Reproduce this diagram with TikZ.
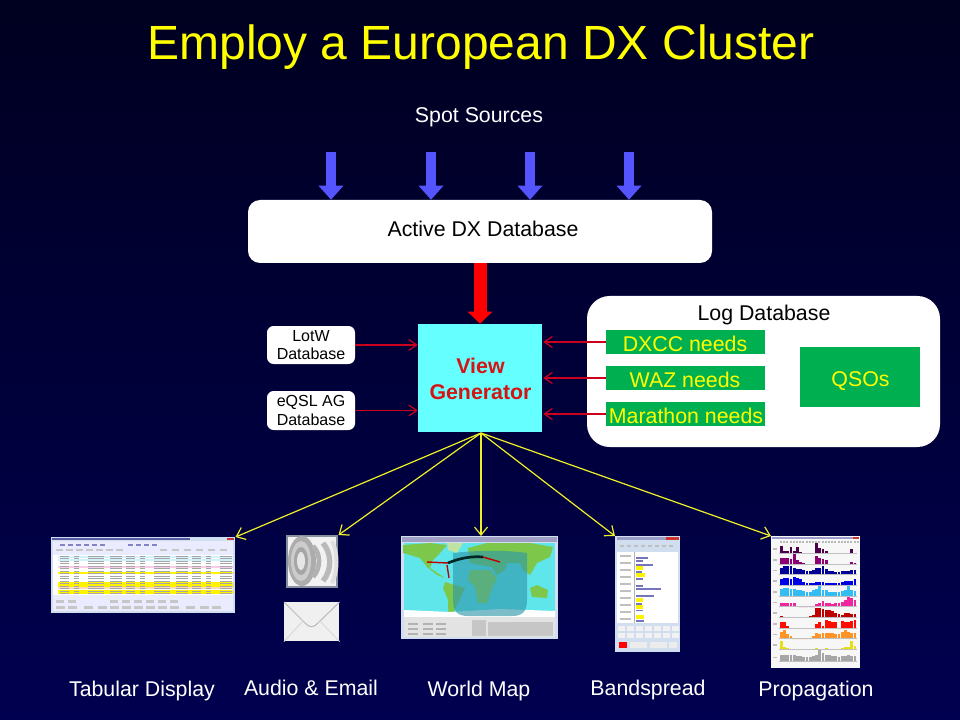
\documentclass[tikz,border=0pt]{standalone}
\usepackage{fontspec}
\setmainfont{Liberation Sans}
\usetikzlibrary{arrows.meta}

\definecolor{slidetop}{RGB}{0,0,32}
\definecolor{slidebot}{RGB}{0,0,80}
\definecolor{titleyellow}{RGB}{255,255,0}
\definecolor{boxgreen}{RGB}{0,176,80}
\definecolor{viewcyan}{RGB}{102,255,255}
\definecolor{viewred}{RGB}{214,20,20}
\definecolor{spotblue}{RGB}{85,85,255}
\definecolor{wirered}{RGB}{204,0,30}
\definecolor{wireyellow}{RGB}{240,240,40}
\definecolor{framegray}{RGB}{208,222,240}
\definecolor{mapcyan}{RGB}{95,230,235}
\definecolor{mapgreen}{RGB}{125,200,75}
\definecolor{mapteal}{RGB}{45,150,170}

\newcommand{\pxu}{*0.75pt}
\tikzset{
  whitebox/.style={fill=white, rounded corners=#1, inner sep=0pt, align=center, text=black},
  needbox/.style={fill=boxgreen, minimum width=159\pxu, minimum height=24\pxu, inner sep=0pt},
  needtext/.style={text=titleyellow, inner sep=0pt, font=\fontsize{16}{16}\selectfont},
  caption/.style={text=white, font=\fontsize{16}{16}\selectfont, inner sep=0pt},
  spotarrow/.style={draw=spotblue, line width=10\pxu, -{Triangle[length=14\pxu,width=24\pxu]}},
  feedarrow/.style={draw=red, line width=13\pxu, -{Triangle[length=12\pxu,width=24\pxu]}},
  redwire/.style={draw=wirered, line width=0.9pt, -{Straight Barb[length=8\pxu,width=11\pxu]}},
  yellowwire/.style={draw=wireyellow, line width=0.9pt, -{Straight Barb[length=8\pxu,width=13\pxu]}},
  shot/.style={fill=framegray, inner sep=0pt, anchor=north west},
}

\begin{document}
\begin{tikzpicture}[x=0.75pt, y=-0.75pt]
      \useasboundingbox (0,0) rectangle (960,720);
      \shade[top color=slidetop, bottom color=slidebot] (0,0) rectangle (960,720);

      % title and sources
      \node[text=titleyellow, font=\fontsize{36}{36}\selectfont, inner sep=0pt] (title) at (481,47) {Employ a European DX Cluster};
      \node[caption] (sources) at (479,117) {Spot Sources};

      % databases
      \node[whitebox=9pt, minimum width=464\pxu, minimum height=63\pxu] (active) at (480,231.5) {};
      \node[text=black, font=\fontsize{16}{16}\selectfont, inner sep=0pt] (activetitle) at (483,229) {Active DX Database};
      \node[fill=viewcyan, minimum width=124\pxu, minimum height=108\pxu, inner sep=0pt] (viewgen) at (480,378) {};
      \node[align=center, text=viewred, inner sep=0pt, font=\bfseries\fontsize{16}{19}\selectfont] (viewtitle) at (480.5,379) {View\\Generator};
      \foreach \x/\nm in {331/a,431/b,530/c,629/d} {
        \coordinate (spot\nm) at (\x,152);
        \draw[spotarrow] (spot\nm) -- (spot\nm |- active.north);
      }
      \draw[feedarrow] (active.south) -- (viewgen.north);

      \node[whitebox=5pt, minimum width=88\pxu, minimum height=38\pxu, font=\fontsize{12}{14}\selectfont] (lotw) at (311,345) {LotW\\Database};
      \node[whitebox=5pt, minimum width=88\pxu, minimum height=39\pxu, font=\fontsize{12}{14}\selectfont] (eqsl) at (311,410.5) {eQSL AG\\Database};

      \node[whitebox=17pt, minimum width=353\pxu, minimum height=151\pxu] (logdb) at (763.5,371.5) {};
      \node[text=black, font=\fontsize{16}{16}\selectfont, inner sep=0pt] (logtitle) at (764,315) {Log Database};
      \node[needbox] (dxcc) at (685.5,342) {};
      \node[needbox] (waz) at (685.5,378) {};
      \node[needbox] (marathon) at (685.5,414) {};
      \node[needtext] (dxcctext) at (685,343.5) {DXCC needs};
      \node[needtext] (waztext) at (685,379.5) {WAZ needs};
      \node[needtext] (maratext) at (686,415.5) {Marathon needs};
      \node[fill=boxgreen, minimum width=120\pxu, minimum height=60\pxu, inner sep=0pt] (qsos) at (860,377) {};
      \node[needtext] (qsostext) at (860.5,381) {QSOs};

      % inputs of the view generator
      \coordinate (inlotw) at (viewgen.west |- lotw);
      \coordinate (ineqsl) at (viewgen.west |- eqsl);
      \coordinate (indxcc) at ([xshift=1\pxu]viewgen.east |- dxcc);
      \coordinate (inwaz) at ([xshift=1\pxu]viewgen.east |- waz);
      \coordinate (inmara) at ([xshift=1\pxu]viewgen.east |- marathon);
      \draw[redwire] (lotw.east) -- (inlotw);
      \draw[redwire] (eqsl.east) -- (ineqsl);
      \draw[redwire] (dxcc.west) -- (indxcc);
      \draw[redwire] (waz.west) -- (inwaz);
      \draw[redwire] (marathon.west) -- (inmara);

      % tabular display
      \node[shot, minimum width=184\pxu, minimum height=76\pxu] (tabular) at (51,537) {};
      \fill[white!92!blue] (53,541) rectangle (233,611);
      \fill[white] (53,555) rectangle (233,595);
      \fill[blue!30!gray] (52,538) rectangle (190,540);
      \fill[red!55!gray] (227,538) rectangle (234,540);
      \foreach \y/\col in {557/cyan!18,560/cyan!18,567/magenta!20,573/yellow,583/yellow,585.5/yellow,588/orange!30,591/yellow,593/yellow}
        \fill[\col] (58,\y-1.4) rectangle (233,\y+1.4);
      \foreach \y in {556,558.5,...,595}
        \draw[gray!70, line width=0.4pt, dash pattern=on 9\pxu off 5\pxu on 5\pxu off 9\pxu on 16\pxu off 6\pxu on 12\pxu off 4\pxu] (60,\y) -- (232,\y);
      \foreach \x in {60,68,...,100,128,136,...,152}
        \fill[blue!40!gray!70] (\x,544) rectangle +(5,1.5);
      \foreach \x in {56,66,...,120,160,172,...,220}
        \fill[gray!45] (\x,549) rectangle +(7,2);
      \foreach \x in {56,68,110,122,134,146,158,170}
        \fill[gray!45] (\x,600) rectangle +(8,3);
      \foreach \x in {56,68,84,98,110,122,134,146,158,170,186,200,212}
        \fill[gray!45] (\x,606) rectangle +(9,2.5);

      % audio and email
      \node[shot, fill=black!35!framegray, minimum width=52\pxu, minimum height=53\pxu] (speaker) at (286,535) {};
      \fill[gray!10] (288,537) rectangle (336,586);
      \fill[gray!65] (302,561) ellipse (14 and 25);
      \fill[gray!40] (301,561) ellipse (10 and 20);
      \fill[gray!70] (301,561) ellipse (7 and 14);
      \fill[gray!20] (301,561) ellipse (4 and 9);
      \draw[gray!60, line width=3.5pt] (313,546) .. controls (321,554) and (321,568) .. (313,577);
      \draw[gray!55, line width=4pt] (323,543) .. controls (332,554) and (332,570) .. (323,581);
      \draw[gray!25, line width=3pt] (332,541) .. controls (338,552) and (338,572) .. (332,583);
      \node[shot, fill=gray!12, minimum width=55\pxu, minimum height=39\pxu] (envelope) at (284,602) {};
      \draw[gray!55, line width=0.75pt] (envelope.north west) -- (305,623) .. controls (310,628) and (313,628) .. (318,623) -- (envelope.north east);
      \draw[gray!30, line width=0.75pt] (envelope.south west) -- (303,621);
      \draw[gray!30, line width=0.75pt] (envelope.south east) -- (320,621);

      % world map
      \node[shot, minimum width=157\pxu, minimum height=103\pxu] (worldmap) at (401,536) {};
      \fill[blue!25!gray!60] (402,537) rectangle (557,542);
      \fill[mapcyan] (404,543) rectangle (555,617);
      \fill[mapgreen] (403,545) -- (430,543) -- (447,545) -- (440,553) -- (433,560) -- (430,568) -- (445,578) -- (437,575) -- (427,567) -- (420,558) -- (410,555) -- (403,553) -- cycle;
      \fill[mapgreen!50!white] (447,543) -- (463,543) -- (457,553) -- (448,550) -- cycle;
      \fill[mapgreen] (445,582) -- (465,588) -- (458,603) -- (452,615) -- (448,615) -- (448,600) -- (443,588) -- cycle;
      \fill[mapgreen] (468,548) -- (487,543) -- (530,543) -- (553,547) -- (550,557) -- (537,563) -- (530,575) -- (523,570) -- (520,563) -- (507,563) -- (505,570) -- (497,575) -- (492,567) -- (480,565) -- (470,563) -- cycle;
      \fill[mapgreen!70!yellow] (470,570) -- (490,570) -- (497,578) -- (492,588) -- (487,603) -- (478,603) -- (475,587) -- (468,580) -- cycle;
      \fill[mapgreen] (530,588) -- (537,585) -- (548,590) -- (547,598) -- (532,597) -- cycle;
      \fill[white] (404,617) -- (404,610) -- (450,612) -- (500,609) -- (555,611) -- (555,617) -- cycle;
      \fill[mapteal, opacity=0.62] (453,553) .. controls (480,550) and (505,550) .. (527,553) -- (527,600) .. controls (527,612) and (522,616) .. (512,616) -- (468,616) .. controls (458,616) and (453,612) .. (453,600) -- cycle;
      \draw[red!75!black, line width=1.1pt] (427,562) -- (448,563);
      \draw[black!70!teal, line width=2pt] (448,563) .. controls (460,558) and (472,556) .. (483,557);
      \draw[red!75!black, line width=1.1pt] (483,557) -- (500,562);
      \draw[red!75!black, line width=1pt] (447,565) -- (449,578);
      \fill[gray!22] (404,617) rectangle (555,637);
      \foreach \y in {623,628,633}
        \foreach \x in {408,423,436}
          \fill[gray!60] (\x,\y) rectangle +(10,1.5);
      \fill[gray!45] (472,620) rectangle (486,636);
      \fill[gray!45] (488,622) rectangle (553,636);

      % bandspread
      \node[shot, minimum width=65\pxu, minimum height=116\pxu] (bandspread) at (615,536) {};
      \fill[blue!30!gray!60] (617,537) rectangle (666,540);
      \fill[red!60!gray] (666,537) rectangle (679,540);
      \foreach \x in {620,627,...,674}
        \fill[gray!50] (\x,545) rectangle +(4,2);
      \fill[white] (617,552) rectangle (678,623);
      \fill[gray!60] (634,552) rectangle (635,623);
      \foreach \y/\w in {558/12,561/7,565/17,568/7,572/6,575/9,579/7,586/7,589/25,596/18,600/7,604/6,607/7,610.5/7,617/8,621/8}
        \fill[blue!35!gray!80] (636,\y-0.7) rectangle +(\w,1.4);
      \foreach \y/\w in {568/7,575/9,600/7,607/7,617/8}
        \fill[yellow] (636,\y-1.6) rectangle +(\w,3.2);
      \foreach \y in {556,563,570,577,584,591,598,605,612,619}
        \fill[gray!50] (620,\y-0.7) rectangle +(11,1.4);
      \foreach \y in {626,633}
        \foreach \x in {618,627,...,672}
          \fill[white!90!gray] (\x,\y) rectangle +(7,5);
      \fill[red] (619,642) rectangle (627,648);
      \foreach \x/\w in {630/17,650/17,669/8}
        \fill[white!85!gray] (\x,642) rectangle +(\w,6);

      % propagation
      \node[shot, fill=gray!6, minimum width=89\pxu, minimum height=132\pxu] (propagation) at (771,536) {};
      \fill[blue!30!gray!60] (772,537) rectangle (853,539);
      \fill[red!60!gray] (853,537) rectangle (859,539);
      \foreach \x in {780,783.2,...,857}
        \fill[gray!55] (\x,541) rectangle +(2,1.5);
      \foreach \y/\col/\vals in {
        553/violet!60!black/{6,2,2,5,2,5,1,0,0,0,0,8,4,3,2,0,0,0,0,0,0,0,3,0},
        564/violet!80!purple/{5,5,5,4,8,3,2,1,0,0,0,7,5,4,3,0,0,0,0,0,0,0,2,1},
        574.7/blue!60!black/{6,7,7,7,6,5,5,4,3,3,4,6,6,7,5,3,3,2,2,3,3,3,4,4},
        585.3/blue!90!black/{5,6,6,5,7,6,5,3,2,2,2,3,3,3,2,2,2,2,2,3,4,4,4,5},
        596/cyan!80!white/{6,7,7,6,6,5,5,4,3,3,5,6,8,5,5,3,3,3,3,4,5,8,5,4},
        606.7/magenta!85!white/{3,3,3,3,3,1,0,0,0,0,0,2,3,5,3,3,2,3,3,4,6,8,7,6},
        617.3/red!75!black/{1,0,0,0,0,0,0,0,0,1,2,8,8,7,6,6,5,4,3,2,4,4,3,3},
        628/red!90!orange/{5,5,2,0,0,0,0,0,0,0,0,3,5,2,7,6,5,5,0,6,5,5,6,7},
        638.7/orange!85!white/{6,7,4,2,0,0,0,0,0,0,2,5,4,5,5,5,5,4,4,6,7,6,5,5},
        649.3/yellow!90!black/{7,2,1,0,0,0,0,0,0,0,0,1,0,0,1,0,0,0,0,1,2,2,7,3},
        661.7/gray!70/{6,6,6,6,6,5,5,4,4,4,5,6,10,7,6,6,5,5,4,5,5,6,5,5}}
      {
        \foreach \h [count=\i] in \vals
          \fill[\col] (776.8+3.2*\i,\y) rectangle +(2.7,-1.2*\h);
        \draw[gray!50, line width=0.4pt] (779,\y) -- (857,\y);
        \fill[gray!50] (773,\y-5) rectangle +(4,1.5);
      }

      % outputs of the view generator
      \coordinate (outview) at (481,433);
      \draw[yellowwire] (outview) -- (tabular.north east);
      \draw[yellowwire] (outview) -- (speaker.north east);
      \draw[yellowwire] (outview) -- (outview |- worldmap.north);
      \draw[yellowwire] (outview) -- (bandspread.north west);
      \draw[yellowwire] (outview) -- (propagation.north west);

      % captions
      \node[caption] (captab) at (142,691) {Tabular Display};
      \node[caption] (capaudio) at (311,688) {Audio \& Email};
      \node[caption] (capmap) at (479,691) {World Map};
      \node[caption] (capband) at (648,690) {Bandspread};
      \node[caption] (capprop) at (816,691) {Propagation};
\end{tikzpicture}
\end{document}
